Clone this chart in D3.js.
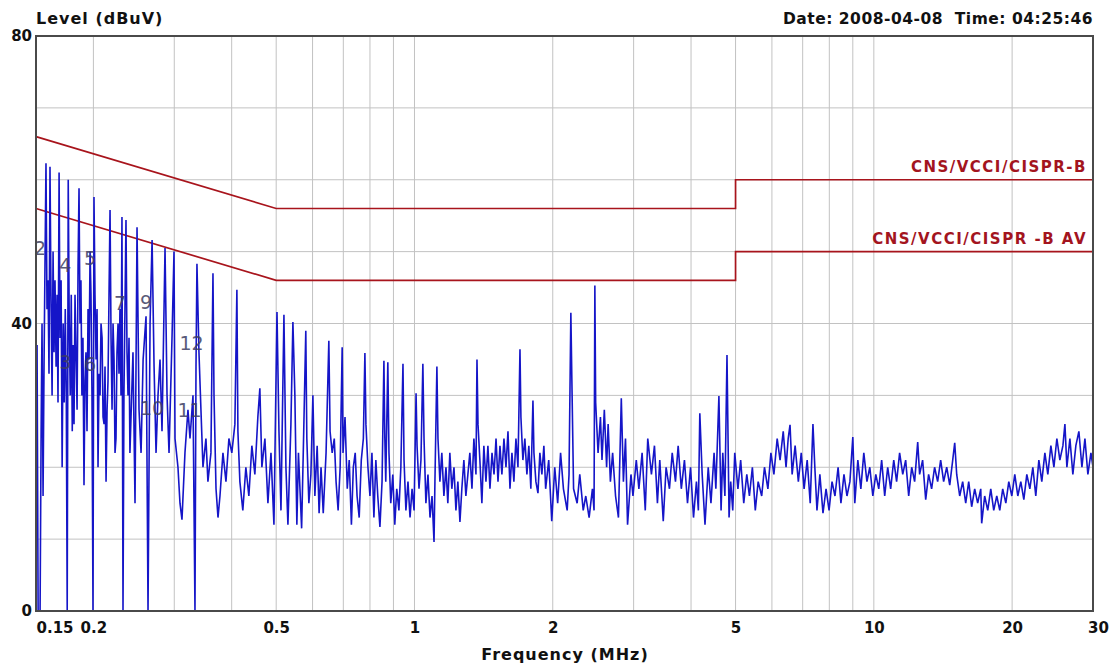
<!DOCTYPE html>
<html>
<head>
<meta charset="utf-8">
<script src="https://cdn.jsdelivr.net/npm/d3@7"></script>
<style>
  body { margin: 0; background: #fff; }
  svg { font-family: "DejaVu Sans", Verdana, sans-serif; }
  .grid line { stroke: #c2c2c2; stroke-width: 1; }
  .axis text { font-size: 15px; font-weight: bold; fill: #111; font-family: "DejaVu Sans", Verdana, sans-serif; }
  .title { font-size: 16px; font-weight: bold; fill: #111; letter-spacing: 1px; }
  .date { font-size: 15.5px; font-weight: bold; fill: #111; letter-spacing: 0.5px; }
  .limit-label { font-size: 15px; font-weight: bold; fill: #a3141e; letter-spacing: 1.5px; }
  .marker { font-size: 19px; fill: #3e3e62; }
</style>
</head>
<body>
<div id="chart-area"></div>
<script>
const xTickValues = [0.15, 0.2, 0.5, 1, 2, 5, 10, 20, 30];
const yTickValues = [0, 40, 80];
const xGridValues = [0.2, 0.3, 0.4, 0.5, 0.6, 0.7, 0.8, 0.9, 1, 2, 3, 4, 5, 6, 7, 8, 9, 10, 20];
const yGridValues = [10, 20, 30, 40, 50, 60, 70];

// limit lines (MHz, dBuV)
const qpLimit = [[0.15, 66], [0.5, 56], [5, 56], [5, 60], [30, 60]];
const avLimit = [[0.15, 56], [0.5, 46], [5, 46], [5, 50], [30, 50]];
const limitNames = ['CNS/VCCI/CISPR-B', 'CNS/VCCI/CISPR -B AV'];

// marker numbers (label, MHz, dBuV)
const markers = [
  ['2', 0.153, 50.5], ['4', 0.1738, 48.1], ['5', 0.1967, 49.1], ['7', 0.2285, 42.9],
  ['9', 0.2604, 43], ['12', 0.327, 37.3], ['3', 0.1738, 34.6], ['6', 0.1967, 34.4],
  ['10', 0.2684, 28.2], ['11', 0.324, 28]
];

const trace = [
  [0.1508,37],[0.1516,0],[0.1531,0],[0.1539,25],[0.1546,40],[0.1554,16],[0.1562,35],[0.1569,48],[0.1577,62.3],[0.1585,42],
  [0.1593,46],[0.1601,33],[0.1609,61.8],[0.1617,44],[0.1626,30],[0.1634,50],[0.1642,36],[0.1650,46],[0.1659,34],[0.1667,44],
  [0.1675,29],[0.1684,61],[0.1692,38],[0.1701,46],[0.1710,20],[0.1719,40],[0.1728,29],[0.1737,42],[0.1746,30],[0.1754,0],
  [0.1763,60],[0.1772,40],[0.1781,30],[0.1790,44],[0.1799,25],[0.1806,37],[0.1815,26],[0.1824,44],[0.1834,35],[0.1843,28],
  [0.1852,48],[0.1861,58.8],[0.1870,40],[0.1879,46],[0.1888,30],[0.1898,38],[0.1908,17.5],[0.1917,32],[0.1927,36],[0.1937,25],
  [0.1947,42],[0.1957,35],[0.1967,50],[0.1976,44],[0.1986,30],[0.1996,0],[0.2006,57.6],[0.2016,44],[0.2027,35],[0.2037,42],
  [0.2047,20],[0.2058,33],[0.2068,30],[0.2078,40],[0.2089,38],[0.2099,27],[0.2110,26],[0.2120,34],[0.2131,18],[0.2142,28],
  [0.2152,32],[0.2163,44],[0.2174,55.8],[0.2185,38],[0.2196,28],[0.2207,40],[0.2218,35],[0.2229,22],[0.2240,24],[0.2251,36],
  [0.2263,40],[0.2274,33],[0.2285,42],[0.2297,30],[0.2308,54.8],[0.2320,0],[0.2331,30],[0.2343,42],[0.2355,54.4],[0.2367,36],
  [0.2379,30],[0.2391,38],[0.2402,22],[0.2439,36],[0.2464,15],[0.2489,53.4],[0.2514,28],
  [0.2540,22],[0.2566,35],[0.2604,41],[0.2630,0],[0.2657,40],[0.2684,51.6],[0.2711,34],[0.2738,22],[0.2765,30],[0.2793,35],
  [0.2821,25],[0.2864,50.5],[0.2893,30],[0.2922,22],[0.2966,38],[0.2996,50],[0.3011,24],[0.3056,20],[0.3087,15],[0.3118,12.7],
  [0.3165,22],[0.3213,28],[0.3246,24],[0.3295,30],[0.3328,0],[0.3345,34],[0.3361,48.3],[0.3395,36],[0.3429,28],[0.3464,20],
  [0.3516,24],[0.3551,18],[0.3605,22],[0.3642,47],[0.3661,30],[0.3698,17],[0.3735,13],[0.3772,16],[0.3829,22],[0.3887,18],
  [0.3945,24],[0.4003,22],[0.4065,26],[0.4106,44.7],[0.4127,25],[0.4168,18],[0.4230,14],[0.4295,20],[0.4360,16],[0.4426,23],
  [0.4493,19],[0.4561,27],[0.4607,31],[0.4654,20],[0.4725,24],[0.4797,15],[0.4871,22],[0.4944,12],[0.5020,41.6],[0.5070,25],
  [0.5121,14],[0.5198,41.2],[0.5250,20],[0.5303,12],[0.5383,26],[0.5437,40.2],[0.5491,30],[0.5546,12],
  [0.559,22],[0.568,11.5],[0.574,25],[0.580,39],[0.583,24],[0.589,15],[0.595,19],[0.601,30],[0.607,16],[0.614,23],
  [0.620,13.6],[0.626,20],[0.633,13.6],[0.642,22],[0.651,37.6],[0.655,25],[0.662,22],[0.669,24],[0.675,18],[0.682,14],
  [0.689,20],[0.696,36.7],[0.699,22],[0.706,27],[0.714,17],[0.721,21],[0.729,12],[0.736,20],[0.743,22],[0.750,16],
  [0.758,13],[0.766,21],[0.774,24],[0.780,35.9],[0.784,26],[0.792,20],[0.800,16],[0.808,22],[0.816,13],[0.824,21],
  [0.832,16],[0.841,11.7],[0.850,18],[0.858,34.8],[0.862,24],[0.866,18],[0.875,34.6],[0.880,22],[0.888,15],[0.897,19],
  [0.906,12],[0.915,17],[0.925,14],[0.934,20],[0.944,34.4],[0.949,21],[0.958,14],[0.968,18],[0.978,13],[0.988,17],
  [0.998,14],[1.008,30.3],[1.013,23],[1.023,17],[1.033,21],[1.043,34.4],[1.049,24],[1.059,15],[1.070,19],[1.081,13],
  [1.092,16],[1.103,9.6],[1.108,18],[1.119,34],[1.125,24],[1.136,18],[1.147,22],[1.159,16],[1.171,20],[1.182,15],
  [1.194,22],[1.206,17],[1.219,20],[1.231,14],[1.243,18],[1.256,12.4],[1.268,17],[1.281,21],[1.294,16],[1.307,19],
  [1.320,22],[1.334,17],[1.347,24],[1.361,19],[1.368,35],[1.375,26],[1.388,21],[1.402,15],[1.416,23],[1.431,18],
  [1.445,23],[1.460,17],[1.475,22],[1.490,19],[1.505,24],[1.520,18],[1.535,23],[1.550,19],[1.566,24],[1.582,20],
  [1.598,25],[1.614,17],[1.630,22],[1.646,18],[1.663,24],[1.680,20],[1.697,36.4],[1.705,27],[1.722,21],[1.739,24],
  [1.757,19],[1.774,23],[1.792,17],[1.811,29.3],[1.820,22],[1.838,18],[1.857,16.4],[1.875,22],[1.894,19],[1.913,23],
  [1.93,17],[1.96,21],[1.99,12.5],[2.02,20],[2.05,15],[2.08,22],[2.11,17],[2.15,14],[2.17,19],[2.19,41.5],
  [2.20,33],[2.22,17],[2.26,15],[2.29,19],[2.33,14],[2.36,16],[2.40,13],[2.44,17],[2.46,14],[2.47,45.3],
  [2.48,29],[2.51,22],[2.54,27],[2.56,21],[2.59,28],[2.62,20],[2.64,26],[2.67,18],[2.70,22],[2.74,16],
  [2.78,13],[2.82,29.6],[2.85,18],[2.88,24],[2.91,12],[2.96,19],[2.99,16],[3.04,21],[3.08,17],[3.13,22],
  [3.18,14],[3.22,24],[3.28,19],[3.33,23],[3.38,15],[3.42,21],[3.48,12.5],[3.53,20],[3.59,17],[3.64,22],
  [3.70,18],[3.75,23],[3.81,17],[3.87,21],[3.93,15],[3.99,20],[4.05,13],[4.11,18],[4.15,14],[4.18,27.5],
  [4.23,19],[4.29,12],[4.36,20],[4.42,15],[4.49,22],[4.53,17],[4.60,29.9],[4.65,14],[4.69,22],[4.74,16],
  [4.79,35.6],[4.84,13],[4.88,18],[4.93,14],[4.98,22],[5.06,17],[5.13,21],[5.21,15],[5.29,19],[5.36,16],
  [5.44,20],[5.52,14],[5.60,18],[5.70,16],[5.78,20],[5.88,17],[5.97,22],[6.06,19],[6.16,24],[6.25,21],
  [6.35,25],[6.44,20],[6.51,24],[6.57,25.9],[6.64,19],[6.74,23],[6.85,18],[6.95,22],[7.05,17],[7.16,21],
  [7.27,15],[7.37,26],[7.44,20],[7.52,14],[7.63,19],[7.75,13.6],[7.87,17],[7.99,14],[8.11,18],[8.23,16],
  [8.36,20],[8.48,15],[8.61,19],[8.74,16],[8.87,18],[9.00,24.2],[9.09,15],[9.23,21],[9.37,17],[9.51,22],
  [9.66,18],[9.80,20],[9.95,16],[10.1,19],[10.25,17],[10.4,21],[10.56,16],[10.72,20],[10.88,17],[11.05,21],
  [11.21,18],[11.38,22],[11.56,19],[11.73,21],[11.91,16],[12.09,20],[12.27,18],[12.46,23.5],[12.58,19],[12.77,21],
  [12.97,15.5],[13.16,19],[13.36,17],[13.56,20],[13.77,18],[13.98,21],[14.19,18],[14.41,20],[14.63,17.5],[14.85,21],
  [15.0,23.4],[15.15,19],[15.38,16],[15.61,18],[15.85,15],[16.09,18],[16.33,14.5],[16.58,17],[16.83,15],[17.09,17],
  [17.17,12.2],[17.43,16],[17.7,14],[17.97,17],[18.24,14],[18.52,16],[18.8,14],[19.08,17],[19.38,15],[19.67,18],
  [19.97,16],[20.27,19],[20.58,16],[20.89,18],[21.21,15.5],[21.53,19],[21.86,17],[22.19,20],[22.52,16],[22.87,21],
  [23.21,18],[23.57,22],[23.92,19],[24.29,23],[24.66,20],[25.03,24],[25.41,21],[25.8,23],[26.06,26],[26.32,20],
  [26.72,24],[27.12,19],[27.53,23],[27.95,25],[28.38,20],[28.81,24],[29.24,19],[29.69,22],[30,20]
];

const drawChart = () => {
  const chartSize = { width: 1117, height: 666 };
  const margin = { left: 36, right: 24, top: 36, bottom: 55 };
  const width = chartSize.width - margin.left - margin.right;
  const height = chartSize.height - margin.top - margin.bottom;

  const svg = d3.select('#chart-area').append('svg')
    .attr('width', chartSize.width)
    .attr('height', chartSize.height);

  const x = d3.scaleLog().domain([0.15, 30]).range([0, width]);
  const y = d3.scaleLinear().domain([0, 80]).range([height, 0]);

  const g = svg.append('g')
    .attr('transform', `translate(${margin.left},${margin.top})`);

  const grid = g.append('g').attr('class', 'grid');
  grid.selectAll('.vx').data(xGridValues).enter().append('line')
    .attr('x1', d => x(d)).attr('x2', d => x(d))
    .attr('y1', 0).attr('y2', height);
  grid.selectAll('.hy').data(yGridValues).enter().append('line')
    .attr('x1', 0).attr('x2', width)
    .attr('y1', d => y(d)).attr('y2', d => y(d));

  const line = d3.line().x(d => x(d[0])).y(d => y(d[1]));

  [qpLimit, avLimit].forEach(lim => {
    g.append('path').datum(lim)
      .attr('d', line)
      .attr('fill', 'none')
      .attr('stroke', '#a8141c')
      .attr('stroke-width', 1.7);
  });

  g.append('path').datum(trace)
    .attr('d', line)
    .attr('fill', 'none')
    .attr('stroke', '#1515c8')
    .attr('stroke-width', 1.6)
    .attr('stroke-linejoin', 'miter');

  g.selectAll('.marker').data(markers).enter().append('text')
    .attr('class', 'marker')
    .attr('x', d => x(d[1]))
    .attr('y', d => y(d[2]))
    .attr('text-anchor', 'middle')
    .attr('dominant-baseline', 'central')
    .attr('opacity', 0.85)
    .text(d => d[0]);

  // limit names sit just above the upper segment of each line
  [qpLimit, avLimit].forEach((lim, i) => {
    g.append('text')
      .attr('class', 'limit-label')
      .attr('x', width - 6)
      .attr('y', y(lim[lim.length - 1][1]) - 8)
      .attr('text-anchor', 'end')
      .text(limitNames[i]);
  });

  g.append('rect')
    .attr('width', width).attr('height', height)
    .attr('fill', 'none')
    .attr('stroke', '#4a4a4a')
    .attr('stroke-width', 2);

  const xAxis = d3.axisBottom(x)
    .tickValues(xTickValues)
    .tickFormat(d => `${d}`)
    .tickSize(0)
    .tickPadding(11);
  const xg = g.append('g')
    .attr('class', 'x axis')
    .attr('transform', `translate(0,${height})`)
    .call(xAxis);
  xg.select('.domain').remove();
  xg.selectAll('.tick text').filter(d => d === 0.15)
    .attr('text-anchor', 'start').attr('dx', 0);
  xg.selectAll('.tick text').filter(d => d === 30)
    .attr('dx', 5);

  const yAxis = d3.axisLeft(y)
    .tickValues(yTickValues)
    .tickSize(0)
    .tickPadding(4);
  const yg = g.append('g').attr('class', 'y axis').call(yAxis);
  yg.select('.domain').remove();

  svg.append('text').attr('class', 'title')
    .attr('x', margin.left).attr('y', 24)
    .text('Level (dBuV)');
  svg.append('text').attr('class', 'date')
    .attr('x', margin.left + width).attr('y', 24)
    .attr('text-anchor', 'end')
    .style('white-space', 'pre')
    .text('Date: 2008-04-08  Time: 04:25:46');
  svg.append('text').attr('class', 'title')
    .attr('x', 565).attr('y', 660)
    .attr('text-anchor', 'middle')
    .text('Frequency (MHz)');
};

const main = () => {
  drawChart();
};
window.onload = main;
</script>
</body>
</html>
